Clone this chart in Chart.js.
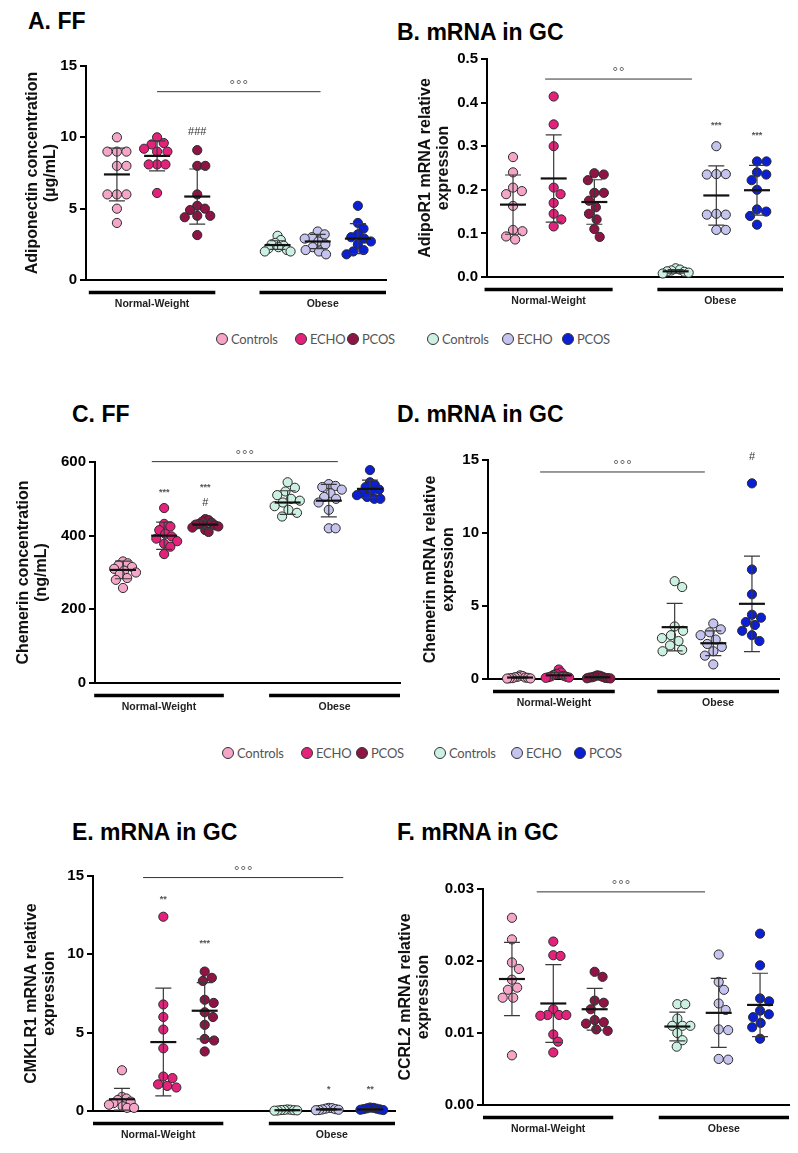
<!DOCTYPE html>
<html>
<head>
<meta charset="utf-8">
<script src="https://cdn.jsdelivr.net/npm/chart.js@4"></script>
<style>
  body { margin: 0; background: #fff; width: 798px; height: 1153px; position: relative; overflow: hidden; font-family: "Liberation Sans", Arial, sans-serif; }
  canvas { position: absolute; }
  .ptitle { position: absolute; font-weight: bold; font-size: 23px; line-height: 24px; color: #000; white-space: nowrap; }
  .leg { position: absolute; font-family: Lato, sans-serif; font-size: 13px; letter-spacing: -0.2px; color: #555; white-space: nowrap; line-height: 14px; }
  .leg i { display: inline-block; width: 10px; height: 10px; border-radius: 50%; border: 1px solid #333; vertical-align: -1px; margin-right: 3px; }
</style>
</head>
<body>
<div class="ptitle" style="left:28px;top:9px">A. FF</div>
<div class="ptitle" style="left:397px;top:20px">B. mRNA in GC</div>
<div class="ptitle" style="left:72px;top:402px">C. FF</div>
<div class="ptitle" style="left:397px;top:402px">D. mRNA in GC</div>
<div class="ptitle" style="left:72px;top:820px">E. mRNA in GC</div>
<div class="ptitle" style="left:397px;top:820px">F. mRNA in GC</div>

<canvas id="chartA"></canvas>
<canvas id="chartB"></canvas>
<canvas id="chartC"></canvas>
<canvas id="chartD"></canvas>
<canvas id="chartE"></canvas>
<canvas id="chartF"></canvas>

<script>
// groups: Normal-Weight Controls/ECHO/PCOS, Obese Controls/ECHO/PCOS
const legendNames = ["Controls", "ECHO", "PCOS", "Controls", "ECHO", "PCOS"];
const weightLabels = ["Normal-Weight", "Obese"];
const groupColors = ["#f5a5c8", "#e3237b", "#8f1446", "#ccf0e2", "#c4c4ef", "#0b1fd4"];
const groupPos = [1, 2, 3, 5, 6, 7];

// A. Adiponectin in FF (µg/mL)
const aNwCtrl = [10.0, 9.0, 9.0, 9.0, 8.0, 8.0, 6.0, 6.0, 6.0, 5.0, 4.0];
const aNwEcho = [10.0, 9.6, 9.5, 9.2, 9.0, 9.0, 8.1, 8.1, 8.1, 6.1];
const aNwPcos = [9.1, 8.0, 8.0, 6.0, 5.2, 5.0, 4.9, 4.5, 4.5, 4.4, 3.15];
const aObCtrl = [3.1, 2.8, 2.6, 2.5, 2.4, 2.3, 2.2, 2.1, 2.0, 2.0];
const aObEcho = [3.4, 3.2, 3.0, 2.9, 2.7, 2.5, 2.3, 2.1, 2.0, 1.8];
const aObPcos = [5.2, 4.0, 3.6, 3.2, 3.0, 2.9, 2.7, 2.5, 2.1, 2.0, 1.8];
const aMean = [7.4, 8.7, 5.85, 2.45, 2.7, 2.9];
const aSd = [1.85, 1.05, 1.93, 0.3, 0.5, 1.05];

// B. AdipoR1 mRNA in GC
const bNwCtrl = [0.275, 0.24, 0.205, 0.197, 0.19, 0.163, 0.108, 0.105, 0.093, 0.086];
const bNwEcho = [0.414, 0.35, 0.30, 0.205, 0.19, 0.17, 0.145, 0.132, 0.116];
const bNwPcos = [0.238, 0.235, 0.222, 0.193, 0.193, 0.175, 0.16, 0.145, 0.132, 0.11, 0.092];
const bObCtrl = [0.02, 0.017, 0.015, 0.013, 0.012, 0.01, 0.008];
const bObEcho = [0.30, 0.236, 0.236, 0.235, 0.145, 0.143, 0.143, 0.108, 0.108];
const bObPcos = [0.265, 0.265, 0.24, 0.235, 0.222, 0.2, 0.155, 0.15, 0.14, 0.12];
const bMean = [0.166, 0.226, 0.172, 0.013, 0.187, 0.199];
const bSd = [0.068, 0.1, 0.051, 0.004, 0.068, 0.057];

// C. Chemerin in FF (ng/mL)
const cNwCtrl = [330, 325, 320, 315, 310, 305, 300, 295, 285, 280, 258];
const cNwEcho = [475, 432, 425, 415, 405, 398, 392, 385, 378, 370, 350];
const cNwPcos = [445, 442, 438, 435, 432, 430, 428, 425, 422, 415, 410];
const cObCtrl = [545, 530, 520, 510, 500, 495, 490, 480, 470, 462, 452];
const cObEcho = [540, 535, 532, 525, 515, 505, 500, 490, 470, 420, 420];
const cObPcos = [578, 545, 538, 532, 525, 520, 515, 510, 505, 500, 500];
const cMean = [307, 400, 430, 490, 495, 527];
const cSd = [24, 37, 11, 32, 44, 24];

// D. Chemerin mRNA in GC
const dNwCtrl = [0.25, 0.2, 0.15, 0.12, 0.1, 0.08, 0.06, 0.05, 0.04, 0.03];
const dNwEcho = [0.65, 0.45, 0.35, 0.28, 0.22, 0.18, 0.15, 0.12, 0.1, 0.08];
const dNwPcos = [0.25, 0.22, 0.18, 0.15, 0.12, 0.1, 0.08, 0.06, 0.05, 0.04];
const dObCtrl = [6.7, 6.3, 3.6, 3.3, 3.0, 2.8, 2.6, 2.3, 2.0, 1.9];
const dObEcho = [3.8, 3.4, 3.2, 3.0, 2.7, 2.4, 2.2, 1.9, 1.6, 1.0];
const dObPcos = [13.4, 7.5, 5.8, 4.4, 4.2, 3.9, 3.7, 3.3, 3.0, 2.6];
const dMean = [0.1, 0.25, 0.12, 3.55, 2.45, 5.15];
const dSd = [0.05, 0.2, 0.06, 1.63, 0.85, 3.27];

// E. CMKLR1 mRNA in GC
const eNwCtrl = [2.6, 0.9, 0.8, 0.7, 0.6, 0.5, 0.4, 0.3, 0.2, 0.2];
const eNwEcho = [12.4, 6.8, 6.0, 5.2, 4.0, 2.2, 2.1, 1.7, 1.6, 1.5];
const eNwPcos = [8.9, 8.5, 8.3, 7.1, 6.9, 6.3, 6.0, 5.5, 4.6, 4.5, 3.8];
const eObCtrl = [0.1, 0.08, 0.07, 0.06, 0.05, 0.04, 0.03, 0.02];
const eObEcho = [0.2, 0.18, 0.15, 0.12, 0.1, 0.08, 0.06, 0.05];
const eObPcos = [0.22, 0.2, 0.17, 0.15, 0.12, 0.1, 0.08, 0.06];
const eMean = [0.75, 4.4, 6.4, 0.05, 0.1, 0.1];
const eSd = [0.7, 3.44, 1.8, 0.03, 0.05, 0.05];

// F. CCRL2 mRNA in GC
const fNwCtrl = [0.026, 0.023, 0.0198, 0.0189, 0.0174, 0.0163, 0.016, 0.0149, 0.0149, 0.0069];
const fNwEcho = [0.0227, 0.0208, 0.0207, 0.0133, 0.0125, 0.0125, 0.0125, 0.0124, 0.0098, 0.0088, 0.0073];
const fNwPcos = [0.0185, 0.0178, 0.0145, 0.0142, 0.0133, 0.0118, 0.0115, 0.0113, 0.0105, 0.0103];
const fObCtrl = [0.014, 0.014, 0.012, 0.011, 0.011, 0.011, 0.01, 0.009, 0.0081];
const fObEcho = [0.0209, 0.0171, 0.016, 0.0141, 0.0132, 0.0105, 0.0104, 0.0064, 0.0063];
const fObPcos = [0.0238, 0.0194, 0.0148, 0.0144, 0.0131, 0.0126, 0.0122, 0.0114, 0.0108, 0.0092];
const fMean = [0.0175, 0.0141, 0.0133, 0.0109, 0.0128, 0.0139];
const fSd = [0.0051, 0.0054, 0.0029, 0.002, 0.0048, 0.0044];

// panel layout: area = pixel box of the plot, canvasLeft leaves room for the axis title
const panels = [
  { id: "chartA", groups: [aNwCtrl, aNwEcho, aNwPcos, aObCtrl, aObEcho, aObPcos], mean: aMean, sd: aSd,
    area: { left: 86, top: 66, right: 386, bottom: 280 }, canvasLeft: 20, xRange: [0.23, 7.70],
    yMax: 15, step: 5, dec: 0, yTitle: ["Adiponectin concentration", "(µg/mL)"],
    sig: { from: 2.0, to: 6.07, at: 13.2, text: "°°°" },
    marks: [[2, "###", 10.4]] },
  { id: "chartB", groups: [bNwCtrl, bNwEcho, bNwPcos, bObCtrl, bObEcho, bObPcos], mean: bMean, sd: bSd,
    area: { left: 487, top: 59, right: 783, bottom: 277 }, canvasLeft: 413, xRange: [0.36, 7.64],
    yMax: 0.5, step: 0.1, dec: 1, yTitle: ["AdipoR1 mRNA relative", "expression"],
    sig: { from: 1.79, to: 5.40, at: 0.454, text: "°°" },
    marks: [[4, "***", 0.347], [5, "***", 0.324]] },
  { id: "chartC", groups: [cNwCtrl, cNwEcho, cNwPcos, cObCtrl, cObEcho, cObPcos], mean: cMean, sd: cSd,
    area: { left: 95, top: 462, right: 400, bottom: 683 }, canvasLeft: 11, xRange: [0.32, 7.73],
    yMax: 600, step: 200, dec: 0, yTitle: ["Chemerin concentration", "(ng/mL)"],
    sig: { from: 1.70, to: 6.22, at: 601, text: "°°°" },
    marks: [[1, "***", 518], [2, "***", 530], [2, "#", 490]] },
  { id: "chartD", groups: [dNwCtrl, dNwEcho, dNwPcos, dObCtrl, dObEcho, dObPcos], mean: dMean, sd: dSd,
    area: { left: 488, top: 460, right: 779, bottom: 679 }, canvasLeft: 418, xRange: [0.17, 7.70],
    yMax: 15, step: 5, dec: 0, yTitle: ["Chemerin mRNA relative", "expression"],
    sig: { from: 1.52, to: 5.78, at: 14.18, text: "°°°" },
    marks: [[5, "#", 15.2]] },
  { id: "chartE", groups: [eNwCtrl, eNwEcho, eNwPcos, eObCtrl, eObEcho, eObPcos], mean: eMean, sd: eSd,
    area: { left: 93, top: 876, right: 395, bottom: 1111 }, canvasLeft: 19, xRange: [0.30, 7.60],
    yMax: 15, step: 5, dec: 0, yTitle: ["CMKLR1 mRNA relative", "expression"],
    sig: { from: 1.51, to: 6.35, at: 14.9, text: "°°°" },
    marks: [[1, "**", 13.5], [2, "***", 10.7], [4, "*", 1.34], [5, "**", 1.34]] },
  { id: "chartF", groups: [fNwCtrl, fNwEcho, fNwPcos, fObCtrl, fObEcho, fObPcos], mean: fMean, sd: fSd,
    area: { left: 483, top: 889, right: 789, bottom: 1105 }, canvasLeft: 393, xRange: [0.30, 7.70],
    yMax: 0.03, step: 0.01, dec: 2, yTitle: ["CCRL2 mRNA relative", "expression"],
    sig: { from: 1.6, to: 5.67, at: 0.0296, text: "°°°" },
    marks: [] }
];

const PAD_TOP = 32, X_AXIS_H = 40, PAD_RIGHT = 6, DOT_R = 4.6;
const SWARM_DIAM = 9.5, SWARM_HALF = 13;

// simple beeswarm: spread dots sideways, squeezed when a group gets too wide
function swarm(values, pos, pxPerY, pxPerX) {
  const placed = [];
  const offs = new Array(values.length);
  const order = values.map((v, i) => i).sort((a, b) => values[b] - values[a]);
  order.forEach(i => {
    const yp = values[i] * pxPerY;
    const blocked = [];
    placed.forEach(p => {
      const dy = Math.abs(p.y - yp);
      if (dy < SWARM_DIAM) {
        const w = Math.sqrt(SWARM_DIAM * SWARM_DIAM - dy * dy);
        blocked.push([p.x - w, p.x + w]);
      }
    });
    const cands = [0];
    blocked.forEach(b => cands.push(b[0], b[1]));
    cands.sort((a, b) => Math.abs(a) - Math.abs(b) || b - a);
    const xp = cands.find(c => blocked.every(b => c <= b[0] + 1e-6 || c >= b[1] - 1e-6));
    placed.push({ x: xp, y: yp });
    offs[i] = xp;
  });
  const widest = Math.max(...offs.map(Math.abs));
  const k = widest > SWARM_HALF ? SWARM_HALF / widest : 1;
  return values.map((v, i) => ({ x: pos + offs[i] * k / pxPerX, y: v }));
}

function decor(p) {
  return {
    id: "decor",
    afterDatasetsDraw(chart) {
      const { ctx, scales: { x, y } } = chart;
      ctx.save();
      p.mean.forEach((m, i) => {
        const cx = x.getPixelForValue(groupPos[i]);
        const yt = y.getPixelForValue(m + p.sd[i]);
        const yb = y.getPixelForValue(Math.max(m - p.sd[i], 0));
        const ym = y.getPixelForValue(m);
        ctx.strokeStyle = "#3a3a3a";
        ctx.lineWidth = 1.2;
        ctx.beginPath();
        ctx.moveTo(cx, yt); ctx.lineTo(cx, yb);
        ctx.moveTo(cx - 8, yt); ctx.lineTo(cx + 8, yt);
        ctx.moveTo(cx - 8, yb); ctx.lineTo(cx + 8, yb);
        ctx.stroke();
        ctx.strokeStyle = "#111";
        ctx.lineWidth = 2.2;
        ctx.beginPath();
        ctx.moveTo(cx - 13, ym); ctx.lineTo(cx + 13, ym);
        ctx.stroke();
      });
      ctx.restore();
    },
    afterDraw(chart) {
      const { ctx, chartArea: a, scales: { x, y } } = chart;
      ctx.save();
      // x axis runs a little past the y axis
      ctx.strokeStyle = "#000";
      ctx.lineWidth = 2;
      ctx.beginPath();
      ctx.moveTo(a.left - 6, a.bottom); ctx.lineTo(a.left, a.bottom);
      ctx.stroke();

      // weight group bars
      const spans = [[0.3, 3.45], [4.55, x.max]];
      ctx.lineWidth = 3.5;
      ctx.font = "bold 10.5px 'Liberation Sans', Arial, sans-serif";
      ctx.fillStyle = "#222";
      ctx.textAlign = "center";
      ctx.textBaseline = "middle";
      spans.forEach((s, k) => {
        const x0 = x.getPixelForValue(s[0]), x1 = x.getPixelForValue(s[1]);
        ctx.beginPath();
        ctx.moveTo(x0, a.bottom + 12.5); ctx.lineTo(x1, a.bottom + 12.5);
        ctx.stroke();
        ctx.fillText(weightLabels[k], (x0 + x1) / 2, a.bottom + 24);
      });

      // obesity comparison line
      const sy = y.getPixelForValue(p.sig.at);
      const sx0 = x.getPixelForValue(p.sig.from), sx1 = x.getPixelForValue(p.sig.to);
      ctx.strokeStyle = "#333";
      ctx.lineWidth = 1;
      ctx.beginPath();
      ctx.moveTo(sx0, sy); ctx.lineTo(sx1, sy);
      ctx.stroke();
      ctx.fillStyle = "#666";
      ctx.font = "13px 'DejaVu Sans', sans-serif";
      ctx.fillText(p.sig.text, (sx0 + sx1) / 2, sy - 6);

      // significance marks above groups
      p.marks.forEach(([g, t, v]) => {
        const star = t.indexOf("*") >= 0;
        ctx.fillStyle = star ? "#555" : "#333";
        ctx.font = star ? "bold 9px 'Liberation Sans', sans-serif" : "11px 'Liberation Sans', sans-serif";
        ctx.fillText(t, x.getPixelForValue(groupPos[g]), y.getPixelForValue(v));
      });
      ctx.restore();
    }
  };
}

panels.forEach(p => {
  const el = document.getElementById(p.id);
  const a = p.area;
  const top = a.top - PAD_TOP;
  el.width = a.right + PAD_RIGHT - p.canvasLeft;
  el.height = a.bottom - top + X_AXIS_H;
  el.style.left = p.canvasLeft + "px";
  el.style.top = top + "px";

  const pxPerY = (a.bottom - a.top) / p.yMax;
  const pxPerX = (a.right - a.left) / (p.xRange[1] - p.xRange[0]);

  new Chart(el, {
    type: "scatter",
    data: {
      datasets: p.groups.map((vals, gi) => ({
        data: swarm(vals, groupPos[gi], pxPerY, pxPerX),
        backgroundColor: groupColors[gi],
        borderColor: "#2a2a2a",
        borderWidth: 1,
        pointRadius: DOT_R,
        pointHoverRadius: DOT_R,
        clip: false
      }))
    },
    options: {
      responsive: false,
      animation: false,
      events: [],
      layout: { padding: { top: PAD_TOP, right: PAD_RIGHT, left: 0, bottom: 0 } },
      plugins: { legend: { display: false }, tooltip: { enabled: false } },
      scales: {
        x: {
          type: "linear", min: p.xRange[0], max: p.xRange[1],
          afterFit: s => { s.height = X_AXIS_H; },
          ticks: { display: false },
          grid: { display: false },
          border: { display: true, color: "#000", width: 2 }
        },
        y: {
          min: 0, max: p.yMax,
          afterFit: s => { s.width = a.left - p.canvasLeft; },
          ticks: {
            stepSize: p.step, padding: 3, color: "#000",
            font: { family: "'Liberation Sans', Arial, sans-serif", size: 15, weight: "bold" },
            callback: v => v.toFixed(p.dec)
          },
          grid: { display: true, drawOnChartArea: false, drawTicks: true, tickLength: 6, color: "#000", lineWidth: 2 },
          border: { display: true, color: "#000", width: 2 },
          title: {
            display: true, text: p.yTitle, color: "#111",
            font: { family: "'Liberation Sans', Arial, sans-serif", size: 16, weight: "bold", lineHeight: 1.1 },
            padding: { top: 4, bottom: 0 }
          }
        }
      }
    },
    plugins: [decor(p)]
  });
});

// legends built from the group names and colours
function legend(yCenter, centers) {
  centers.forEach((cx, i) => {
    const d = document.createElement("div");
    d.className = "leg";
    d.style.left = (cx - 6) + "px";
    d.style.top = (yCenter - 7) + "px";
    d.innerHTML = '<i style="background:' + groupColors[i] + '"></i>' + legendNames[i];
    document.body.appendChild(d);
  });
}
legend(339, [222, 301, 353, 433, 508, 568]);
legend(753, [228, 307, 362, 440, 517, 580]);
</script>
</body>
</html>
